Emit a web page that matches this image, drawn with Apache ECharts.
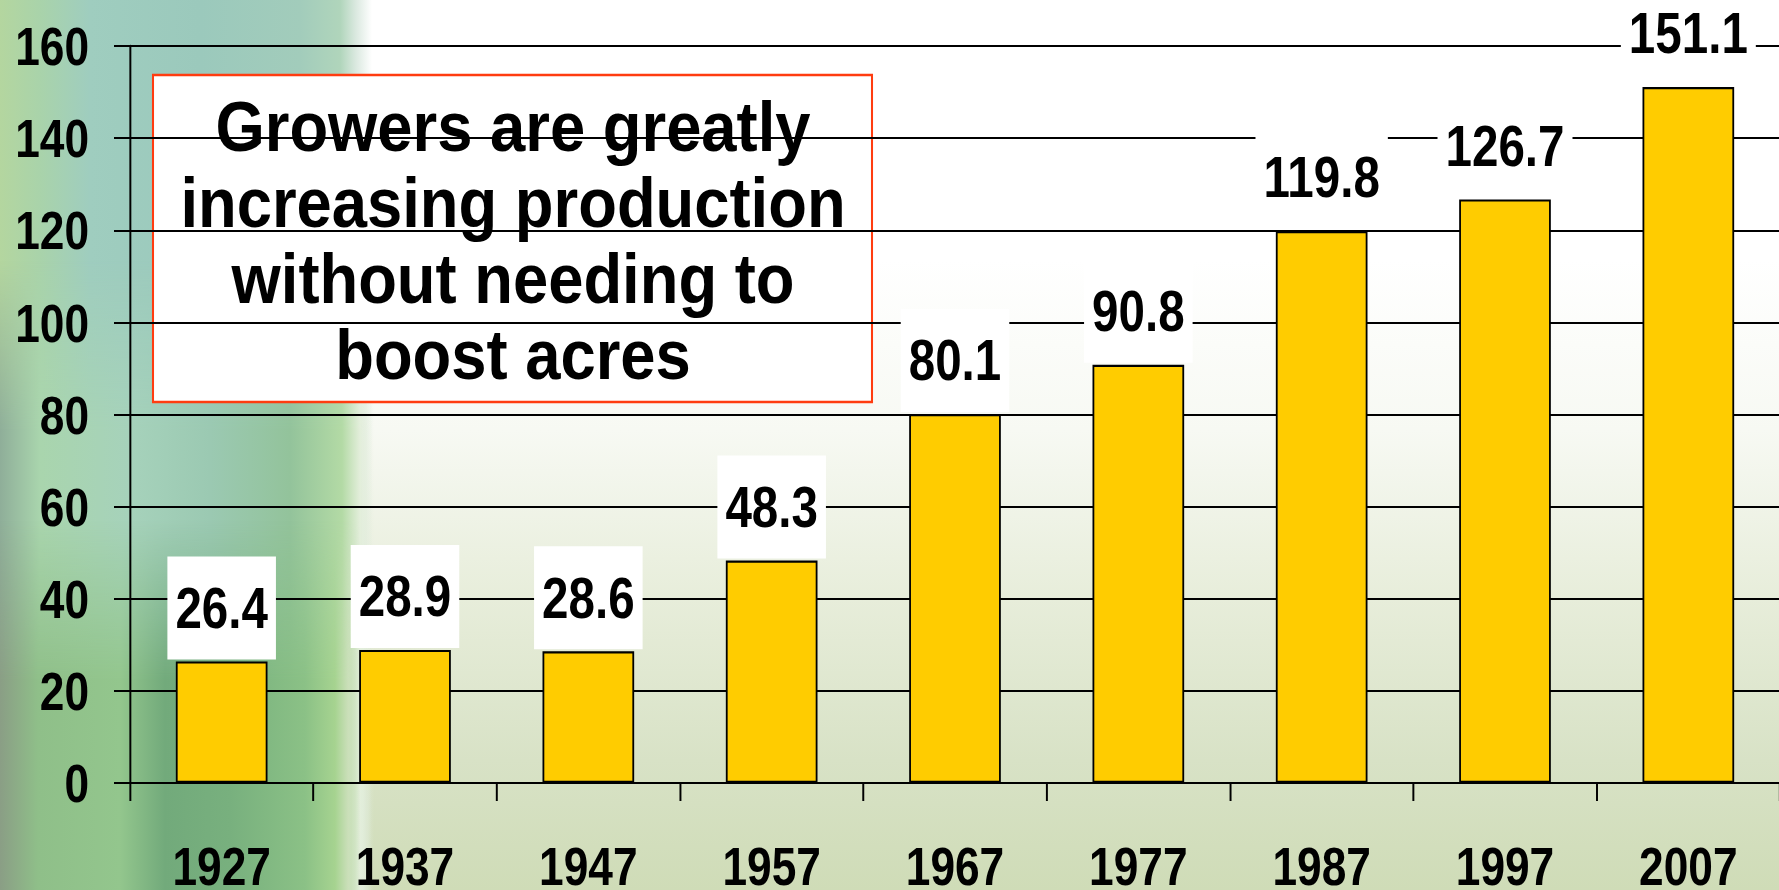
<!DOCTYPE html>
<html>
<head>
<meta charset="utf-8">
<script src="https://cdn.jsdelivr.net/npm/echarts@6/dist/echarts.min.js"></script>
<style>
  html, body { margin: 0; padding: 0; width: 1779px; height: 890px; overflow: hidden; }
  #wrap { position: relative; width: 1779px; height: 890px; overflow: hidden; }
  .bg { position: absolute; left: 0; top: 0; width: 1779px; height: 890px; }
  #bgBase { background: linear-gradient(to bottom, #ffffff 0px, #ffffff 260px, #f7f9f3 430px, #e7edda 600px, #d8e2c6 760px, #cfdcb7 890px); }
  #stripeTop {
    width: 380px;
    background: linear-gradient(to right, #b4d69f 0px, #a9d3aa 40px, #9fcdbf 90px, #9bc9bc 200px, #a2ccbb 300px, #b0d5bb 340px, #dbe9e0 356px, rgba(255,255,255,0) 372px);
  }
  #stripeMid {
    width: 380px;
    background: linear-gradient(to right, #8fae99 0px, #a9d5ad 40px, #a6d2bb 130px, #9bc9b2 210px, #93c39b 290px, #b3daa5 342px, #e3eedb 360px, rgba(255,255,255,0) 374px);
    -webkit-mask-image: linear-gradient(to bottom, rgba(0,0,0,0) 260px, #000 430px, #000 890px);
    mask-image: linear-gradient(to bottom, rgba(0,0,0,0) 260px, #000 430px, #000 890px);
  }
  #stripeBot {
    width: 380px;
    background: linear-gradient(to right, #8a9e85 0px, #8fbf89 38px, #93c68d 120px, #72aa7b 165px, #78b07e 230px, #8bc186 305px, #a6d390 335px, #cadfb9 348px, rgba(255,255,255,0) 360px);
    -webkit-mask-image: linear-gradient(to bottom, rgba(0,0,0,0) 520px, #000 680px, #000 890px);
    mask-image: linear-gradient(to bottom, rgba(0,0,0,0) 520px, #000 680px, #000 890px);
  }
  /* chart laid out in a wider space and squeezed horizontally to get condensed lettering */
  #chart { position: absolute; left: 0; top: 0; width: 2170px; height: 890px; transform-origin: 0 0; }
</style>
</head>
<body>
<div id="wrap">
  <div class="bg" id="bgBase"></div>
  <div class="bg" id="stripeTop"></div>
  <div class="bg" id="stripeMid"></div>
  <div class="bg" id="stripeBot"></div>
  <div id="chart"></div>
</div>
<script>
const years = ['1927', '1937', '1947', '1957', '1967', '1977', '1987', '1997', '2007'];
const yields = [26.4, 28.9, 28.6, 48.3, 80.1, 90.8, 119.8, 126.7, 151.1];
const yMin = 0;
const yMax = 160;
const yStep = 20;
const noteLines = ['Growers are greatly', 'increasing production', 'without needing to', 'boost acres'];

const WIDE = 2170;
const S = 1779 / WIDE; // horizontal squeeze factor
const el = document.getElementById('chart');
el.style.transform = 'scaleX(' + S + ')';

const font = "'Liberation Sans', Arial, sans-serif";
const chart = echarts.init(el, null, { renderer: 'svg', width: WIDE, height: 890 });
const px = v => v / S; // convert a screen x-length to wide-space length

const option = {
  backgroundColor: 'transparent',
  animation: false,
  grid: { left: px(130), right: px(-1), top: 46, bottom: 107, containLabel: false, outerBoundsMode: 'none' },
  xAxis: {
    type: 'category',
    data: years,
    boundaryGap: true,
    axisLine: { show: true, lineStyle: { color: '#000', width: 2 } },
    axisTick: { show: true, length: 18, inside: false, lineStyle: { color: '#000', width: 2.4 } },
    axisLabel: { color: '#000', fontFamily: font, fontWeight: 'bold', fontSize: 54, margin: 56, interval: 0 },
    splitLine: { show: false }
  },
  yAxis: {
    type: 'value',
    min: yMin,
    max: yMax,
    interval: yStep,
    axisLine: { show: true, lineStyle: { color: '#000', width: 2.4 } },
    axisTick: { show: true, length: px(16), inside: false, lineStyle: { color: '#000', width: 2 } },
    axisLabel: { color: '#000', fontFamily: font, fontWeight: 'bold', fontSize: 54, margin: px(41) },
    splitLine: { show: true, lineStyle: { color: '#000', width: 2 } }
  },
  series: [{
    type: 'bar',
    data: yields,
    barWidth: '50%',
    itemStyle: { color: '#ffcc00', borderColor: '#000', borderWidth: 2.2 },
    label: {
      show: true,
      position: 'top',
      distance: 2,
      color: '#000',
      fontFamily: font,
      fontWeight: 'bold',
      fontSize: 58,
      lineHeight: 58,
      backgroundColor: '#ffffff',
      padding: [22, px(8), 23, px(8)],
      formatter: p => p.value.toFixed(1)
    },
    z: 3
  }],
  graphic: [{
    type: 'group',
    z: 100,
    children: [{
      type: 'rect',
      shape: { x: px(153), y: 75, width: px(719), height: 327 },
      style: { fill: '#ffffff', stroke: '#ff3c10', lineWidth: 2.5 }
    }, {
      type: 'text',
      x: px(513),
      y: 241,
      scaleX: 0.905 / S,
      scaleY: 1,
      style: {
        text: noteLines.join('\n'),
        fill: '#000',
        font: "bold 70px 'Liberation Sans', Arial, sans-serif",
        lineHeight: 76,
        align: 'center',
        verticalAlign: 'middle'
      }
    }]
  }]
};
chart.setOption(option);
</script>
</body>
</html>
